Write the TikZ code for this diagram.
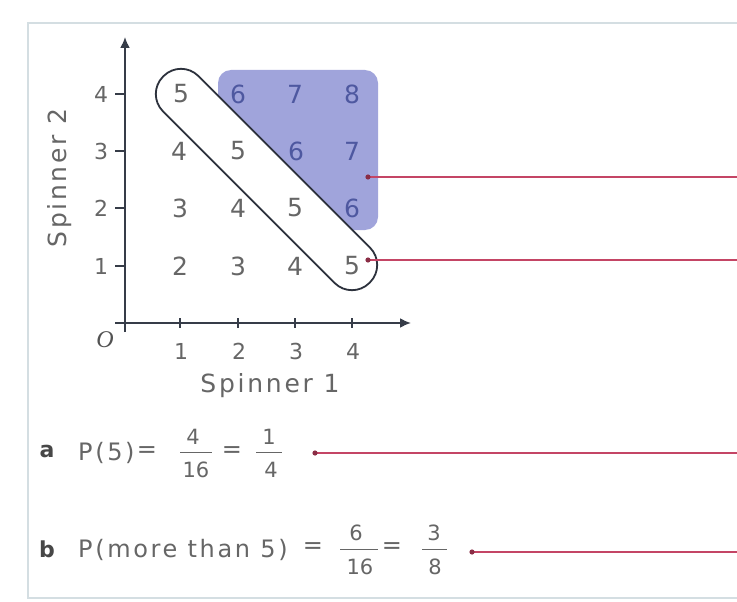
\documentclass[tikz,border=0pt]{standalone}
\usepackage{fontspec}
\setmainfont{DejaVu Sans}
\newfontfamily\wide[LetterSpace=11]{DejaVu Sans}
\newfontfamily\serifit{Liberation Serif}
\usetikzlibrary{arrows.meta}
\definecolor{txtc}{HTML}{666666}
\definecolor{bluetxt}{HTML}{4E58A0}
\definecolor{shadec}{HTML}{A0A4DB}
\definecolor{axisc}{HTML}{363C48}
\definecolor{capc}{HTML}{2C313C}
\definecolor{redc}{HTML}{C44565}
\definecolor{dotc}{HTML}{8A2D45}
\definecolor{framec}{HTML}{D4DEE2}
\tikzset{
  num/.style={text=txtc, inner sep=0, font=\fontsize{25}{25}\selectfont},
  bnum/.style={text=bluetxt, inner sep=0, font=\fontsize{25}{25}\selectfont},
  ticklab/.style={text=txtc, inner sep=0, font=\fontsize{22}{22}\selectfont},
  axislab/.style={text=txtc, inner sep=0, font=\wide\fontsize{25}{25}\selectfont},
  formula/.style={text=txtc, inner sep=0, font=\wide\fontsize{24}{24}\selectfont},
  fracnum/.style={text=txtc, inner sep=0, font=\fontsize{21}{21}\selectfont},
  partlab/.style={text=txtc!70!black, inner sep=0, font=\bfseries\fontsize{22}{22}\selectfont},
  axisline/.style={draw=axisc, line width=2, -{Latex[length=11,width=10]}},
  tickline/.style={draw=axisc, line width=1.6},
  fracbar/.style={draw=txtc, line width=0.9},
  leader/.style={draw=redc, line width=2.2},
  leaderdot/.style={fill=dotc},
}
\begin{document}
\begin{tikzpicture}[x=1pt,y=-1pt]
\useasboundingbox (0,0) rectangle (737,602);
\fill[white] (0,0) rectangle (737,602);
\draw[framec, line width=2] (737,23) -- (28,23) -- (28,598) -- (737,598);

% shaded region
\fill[shadec] (218,95.6) [rounded corners=13] -- (218,70) -- (378,70) -- (378,230) [sharp corners] -- (352.4,230) -- cycle;

% axes
\coordinate (yb) at (125,332);
\coordinate (yt) at (125,37);
\coordinate (xb) at (115,323);
\coordinate (xt) at (411,323);
\draw[axisline] (yb) -- (yt);
\draw[axisline] (xb) -- (xt);

% ticks and labels
\foreach \i/\xx in {1/180,2/238,3/295,4/352}{
  \draw[tickline] (\xx,318) -- (\xx,328);
  \node[ticklab] (xl\i) at (\xx+1,351) {\i};
}
\foreach \i/\yy in {1/266,2/208,3/151,4/94}{
  \draw[tickline] (115,\yy) -- (125,\yy);
  \node[ticklab] (yl\i) at (101,\yy) {\i};
}
\node[text=txtc!80!black, inner sep=0, font=\serifit\itshape\fontsize{24}{24}\selectfont] (origin) at (105,340) {O};
\node[axislab, rotate=90] (s2) at (60,178) {Spinner 2};
\node[axislab] (s1) at (270,386) {Spinner 1};

% grid numbers
\node[num] (g14) at (181,94) {5};
\node[bnum] (g24) at (238,94) {6};
\node[bnum] (g34) at (295,94) {7};
\node[bnum] (g44) at (352,94) {8};
\node[num] (g13) at (179,151) {4};
\node[num] (g23) at (238,151) {5};
\node[bnum] (g33) at (296,151) {6};
\node[bnum] (g43) at (352,151) {7};
\node[num] (g12) at (180,208) {3};
\node[num] (g22) at (238,208) {4};
\node[num] (g32) at (295,208) {5};
\node[bnum] (g42) at (352,208) {6};
\node[num] (g11) at (180,266) {2};
\node[num] (g21) at (238,266) {3};
\node[num] (g31) at (295,266) {4};
\node[num] (g41) at (352,266) {5};

% capsule
\node[draw=capc, line width=1.8, minimum width=291.8, minimum height=50, rounded corners=24.5, rotate=-45, inner sep=0] (cap) at (266.5,179.5) {};

% leader lines
\coordinate (d1) at (368,177);
\coordinate (e1) at (737,177);
\coordinate (d2) at (368,260);
\coordinate (e2) at (737,260);
\coordinate (d3) at (315,453);
\coordinate (e3) at (737,453);
\coordinate (d4) at (472,552);
\coordinate (e4) at (737,552);
\foreach \k in {1,2,3,4}{
  \draw[leader] (d\k) -- (e\k);
  \fill[leaderdot] (d\k) circle (2.6);
}

% part a
\node[partlab] (pa) at (47,451) {a};
\node[formula, anchor=base west] (fa) at (78,460) {P(5)};
\node[formula] (eqa1) at (147,452) {=};
\node[fracnum] (na1) at (193,437) {4};
\draw[fracbar] (180,452) -- (212,452);
\node[fracnum] (da1) at (196,470) {16};
\node[formula] (eqa2) at (232,452) {=};
\node[fracnum] (na2) at (269,437) {1};
\draw[fracbar] (256,452) -- (282,452);
\node[fracnum] (da2) at (271,470) {4};

% part b
\node[partlab] (pb) at (47,549) {b};
\node[formula, anchor=base west] (fb) at (78,557) {P(more than 5)};
\node[formula] (eqb1) at (313,548) {=};
\node[fracnum] (nb1) at (356,533) {6};
\draw[fracbar] (340,549) -- (378,549);
\node[fracnum] (db1) at (360,567) {16};
\node[formula] (eqb2) at (392,548) {=};
\node[fracnum] (nb2) at (434,533) {3};
\draw[fracbar] (422,549) -- (447,549);
\node[fracnum] (db2) at (435,567) {8};
\end{tikzpicture}
\end{document}
